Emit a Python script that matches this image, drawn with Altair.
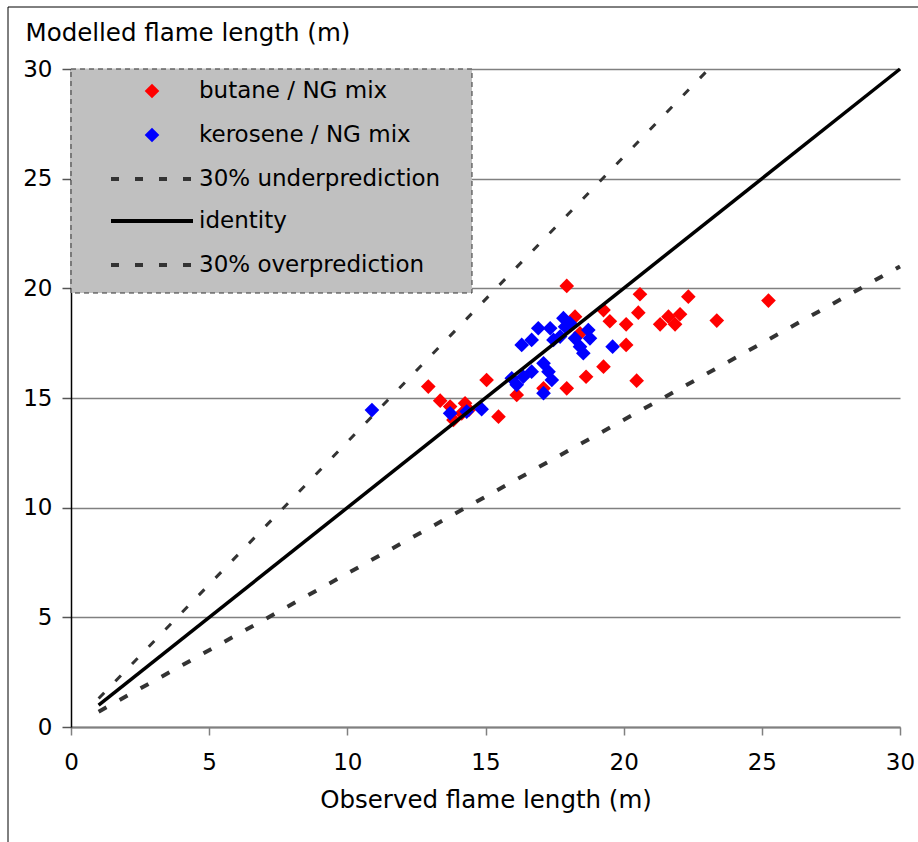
import altair as alt
import pandas as pd

# ---- data ----
butane_x = [12.93, 13.36, 13.72, 13.84, 14.14, 14.26, 14.40, 15.04, 15.47, 16.13,
            17.10, 17.94, 17.94, 18.24, 18.42, 18.64, 19.27, 19.27, 19.50, 20.09,
            20.09, 20.47, 20.53, 20.59, 21.32, 21.62, 21.86, 22.04, 22.34, 23.37, 25.24]
butane_y = [15.52, 14.88, 14.61, 14.00, 14.30, 14.76, 14.46, 15.82, 14.15, 15.14,
            15.44, 15.44, 20.11, 18.71, 17.95, 15.97, 19.01, 16.43, 18.50, 18.36,
            17.42, 15.79, 18.89, 19.73, 18.36, 18.71, 18.36, 18.82, 19.62, 18.53, 19.44]

kerosene_x = [10.89, 13.72, 14.32, 14.86, 15.95, 16.13, 16.37, 16.67, 17.10, 17.28,
              17.40, 17.10, 16.31, 16.67, 16.91, 17.34, 17.46, 17.70, 17.82, 17.88,
              18.06, 18.24, 18.42, 18.54, 18.72, 18.78, 19.60]
kerosene_y = [14.45, 14.30, 14.38, 14.49, 15.90, 15.60, 15.97, 16.20, 16.58, 16.20,
              15.82, 15.22, 17.42, 17.65, 18.18, 18.18, 17.65, 17.80, 18.64, 18.25,
              18.41, 17.72, 17.34, 17.04, 18.10, 17.72, 17.34]

line_names = ["30% underprediction", "identity", "30% overprediction"]
under_x = [1, 23.08]
under_y = [1.3, 30]
ident_x = [1, 30]
ident_y = [1, 30]
over_x = [1, 30]
over_y = [0.7, 21]

legend_labels = ["butane / NG mix", "kerosene / NG mix",
                 "30% underprediction", "identity", "30% overprediction"]

x_ticks = [0, 5, 10, 15, 20, 25, 30]
y_ticks = [0, 5, 10, 15, 20, 25, 30]

# ---- tables ----
pts = pd.DataFrame({
    "x": butane_x + kerosene_x,
    "y": butane_y + kerosene_y,
    "series": ["butane / NG mix"] * len(butane_x) + ["kerosene / NG mix"] * len(kerosene_x),
})
lines = pd.DataFrame({
    "x": under_x + ident_x + over_x,
    "y": under_y + ident_y + over_y,
    "series": [line_names[0]] * 2 + [line_names[1]] * 2 + [line_names[2]] * 2,
})
one = pd.DataFrame({"k": [0]})  # single row for decoration marks

W, H = 829, 658
FONT = "DejaVu Sans"
FS_LAB = 23
FS_TITLE = 24.5
FS_LEG = 23
PT_SIZE = 215

xs = alt.Scale(domain=[0, 30], nice=False, zero=False)
ys = alt.Scale(domain=[0, 30], nice=False, zero=False)

x_axis = alt.Axis(values=x_ticks, title="Observed flame length (m)", grid=False,
                  domainColor="#808080", domainWidth=2, tickColor="#808080", tickWidth=1.5,
                  tickSize=8, labelPadding=16, labelFontSize=FS_LAB, labelFont=FONT,
                  labelColor="black",
                  titleFont=FONT, titleFontSize=FS_TITLE, titleFontWeight="normal",
                  titleColor="black", titlePadding=14, labelFlush=False)
y_axis = alt.Axis(values=y_ticks, title="Modelled flame length (m)", grid=True,
                  gridColor="#808080", gridWidth=1.5, domainColor="black", domainWidth=1.5,
                  tickColor="#555555", tickWidth=1.5, tickSize=9, labelPadding=10,
                  labelFontSize=FS_LAB, labelFont=FONT, labelColor="black",
                  titleFont=FONT, titleFontSize=FS_TITLE, titleFontWeight="normal",
                  titleColor="black", titleAngle=0, titleAlign="left", titleBaseline="middle",
                  titleX=-46, titleY=-36, labelFlush=False)

X = alt.X("x:Q", scale=xs, axis=x_axis)
Y = alt.Y("y:Q", scale=ys, axis=y_axis)

red_pts = alt.Chart(pts).transform_filter(alt.datum.series == "butane / NG mix").mark_point(
    shape="diamond", filled=True, size=PT_SIZE, color="#FF0000", opacity=1).encode(x=X, y=Y)
blue_pts = alt.Chart(pts).transform_filter(alt.datum.series == "kerosene / NG mix").mark_point(
    shape="diamond", filled=True, size=PT_SIZE, color="#0000FF", opacity=1).encode(x=X, y=Y)

under_line = alt.Chart(lines).transform_filter(alt.datum.series == line_names[0]).mark_line(
    color="#333333", strokeWidth=3, strokeDash=[8, 16]).encode(x=X, y=Y)
ident_line = alt.Chart(lines).transform_filter(alt.datum.series == line_names[1]).mark_line(
    color="black", strokeWidth=3.5).encode(x=X, y=Y)
over_line = alt.Chart(lines).transform_filter(alt.datum.series == line_names[2]).mark_line(
    color="#333333", strokeWidth=4, strokeDash=[9, 15]).encode(x=X, y=Y)

# ---- hand-built legend (decoration, pixel offsets inside plot) ----
leg_box = alt.Chart(one).mark_rect(fill="#C0C0C0", stroke="#333333", strokeWidth=1,
                                    strokeDash=[5, 4]).encode(
    x=alt.value(0), x2=alt.value(401), y=alt.value(0), y2=alt.value(224))

leg_rows = [22, 66, 110, 152, 196]
leg_red = alt.Chart(one).mark_point(shape="diamond", filled=True, size=PT_SIZE, color="#FF0000",
                                     opacity=1).encode(x=alt.value(81), y=alt.value(leg_rows[0]))
leg_blue = alt.Chart(one).mark_point(shape="diamond", filled=True, size=PT_SIZE, color="#0000FF",
                                      opacity=1).encode(x=alt.value(81), y=alt.value(leg_rows[1]))
leg_under = alt.Chart(one).mark_rule(color="#333333", strokeWidth=4, strokeDash=[8, 16]).encode(
    x=alt.value(40), x2=alt.value(122), y=alt.value(leg_rows[2]))
leg_ident = alt.Chart(one).mark_rule(color="black", strokeWidth=4).encode(
    x=alt.value(40), x2=alt.value(122), y=alt.value(leg_rows[3]))
leg_over = alt.Chart(one).mark_rule(color="#333333", strokeWidth=4, strokeDash=[8, 16]).encode(
    x=alt.value(40), x2=alt.value(122), y=alt.value(leg_rows[4]))

leg_text_layers = [
    alt.Chart(one).mark_text(text=lab, align="left", baseline="middle", font=FONT,
                             fontSize=FS_LEG, color="black").encode(x=alt.value(128),
                                                                    y=alt.value(r))
    for lab, r in zip(legend_labels, leg_rows)
]

# outer frame of the chart area
frame_left = alt.Chart(one).mark_rule(color="black", strokeWidth=1).encode(
    x=alt.value(-63), y=alt.value(-62), y2=alt.value(780))
frame_top = alt.Chart(one).mark_rule(color="black", strokeWidth=1).encode(
    x=alt.value(-63), x2=alt.value(860), y=alt.value(-62))

chart = alt.layer(
    red_pts, blue_pts, under_line, ident_line, over_line,
    leg_box, leg_red, leg_blue, leg_under, leg_ident, leg_over, *leg_text_layers,
    frame_left, frame_top,
).properties(
    width=W, height=H,
    autosize=alt.AutoSizeParams(type="none"),
    padding={"left": 71, "top": 69, "right": 18, "bottom": 115},
    background="white",
).configure_view(stroke=None)

chart.save("out.html", embed_options={"renderer": "svg", "actions": False})
